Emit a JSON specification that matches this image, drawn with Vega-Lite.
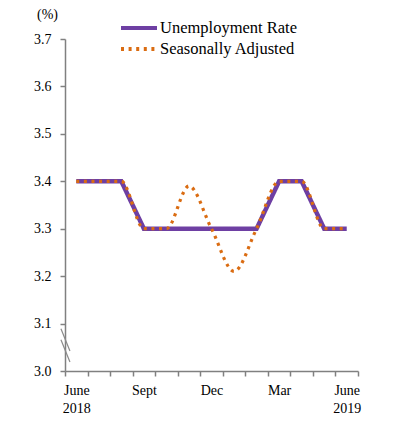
{
  "$schema": "https://vega.github.io/schema/vega-lite/v6.json",
  "width": 293,
  "height": 332,
  "autosize": "none",
  "padding": {"left": 65, "top": 39, "right": 39, "bottom": 74},
  "background": "white",
  "config": {"view": {"stroke": null}, "font": "Liberation Serif"},
  "datasets": {
    "rates": [
      {"i": 0, "series": "Unemployment Rate", "value": 3.4},
      {"i": 1, "series": "Unemployment Rate", "value": 3.4},
      {"i": 2, "series": "Unemployment Rate", "value": 3.4},
      {"i": 3, "series": "Unemployment Rate", "value": 3.3},
      {"i": 4, "series": "Unemployment Rate", "value": 3.3},
      {"i": 5, "series": "Unemployment Rate", "value": 3.3},
      {"i": 6, "series": "Unemployment Rate", "value": 3.3},
      {"i": 7, "series": "Unemployment Rate", "value": 3.3},
      {"i": 8, "series": "Unemployment Rate", "value": 3.3},
      {"i": 9, "series": "Unemployment Rate", "value": 3.4},
      {"i": 10, "series": "Unemployment Rate", "value": 3.4},
      {"i": 11, "series": "Unemployment Rate", "value": 3.3},
      {"i": 12, "series": "Unemployment Rate", "value": 3.3},
      {"i": 0, "series": "Seasonally Adjusted", "value": 3.4},
      {"i": 1, "series": "Seasonally Adjusted", "value": 3.4},
      {"i": 2, "series": "Seasonally Adjusted", "value": 3.4},
      {"i": 3, "series": "Seasonally Adjusted", "value": 3.3},
      {"i": 4, "series": "Seasonally Adjusted", "value": 3.3},
      {"i": 5, "series": "Seasonally Adjusted", "value": 3.39},
      {"i": 6, "series": "Seasonally Adjusted", "value": 3.3},
      {"i": 7, "series": "Seasonally Adjusted", "value": 3.21},
      {"i": 8, "series": "Seasonally Adjusted", "value": 3.3},
      {"i": 9, "series": "Seasonally Adjusted", "value": 3.4},
      {"i": 10, "series": "Seasonally Adjusted", "value": 3.4},
      {"i": 11, "series": "Seasonally Adjusted", "value": 3.3},
      {"i": 12, "series": "Seasonally Adjusted", "value": 3.3}
    ],
    "breaks": [
      {"x": -0.68, "y": 3.089, "x2": -0.28, "y2": 3.042},
      {"x": -0.68, "y": 3.066, "x2": -0.28, "y2": 3.019}
    ]
  },
  "resolve": {"axis": {"x": "independent"}},
  "layer": [
    {
      "data": {"name": "breaks"},
      "mark": {"type": "rule", "color": "#8a8a8a", "strokeWidth": 1.2, "clip": false},
      "encoding": {
        "x": {"field": "x", "type": "quantitative", "scale": {"domain": [-0.5, 12.5], "nice": false, "zero": false},
          "axis": {"orient": "bottom", "values": [-0.5, 0.5, 1.5, 2.5, 3.5, 4.5, 5.5, 6.5, 7.5, 8.5, 9.5, 10.5, 11.5, 12.5], "labels": false, "grid": false, "title": null, "domainColor": "#808080", "domainWidth": 1.5, "tickColor": "#808080", "tickWidth": 1.5, "tickSize": 5}},
        "x2": {"field": "x2"},
        "y": {"field": "y", "type": "quantitative", "scale": {"domain": [3.0, 3.7], "nice": false, "zero": false},
          "axis": {"values": [3.0, 3.1, 3.2, 3.3, 3.4, 3.5, 3.6, 3.7], "format": ".1f", "grid": false, "title": "(%)", "titleAngle": 0, "titleX": -18, "titleY": -18, "titleFont": "Liberation Serif", "titleFontSize": 14, "titleFontWeight": "normal", "titleColor": "black", "labelFont": "Liberation Serif", "labelFontSize": 14, "labelColor": "black", "labelPadding": 9, "domainColor": "#808080", "domainWidth": 1.5, "tickColor": "#808080", "tickWidth": 1.5, "tickSize": 5}},
        "y2": {"field": "y2"}
      }
    },
    {
      "data": {"name": "rates"},
      "transform": [{"filter": "datum.series === 'Unemployment Rate'"}],
      "mark": {"type": "line", "strokeWidth": 4.5, "interpolate": "linear"},
      "encoding": {
        "x": {"field": "i", "type": "quantitative",
          "axis": {"orient": "bottom", "values": [0, 3, 6, 9, 12], "ticks": false, "domain": false, "grid": false, "title": null, "labelFont": "Liberation Serif", "labelFontSize": 14, "labelColor": "black", "labelPadding": 12, "labelLineHeight": 18, "labelBaseline": "top", "labelExpr": "datum.value == 0 ? ['June', '2018'] : datum.value == 3 ? 'Sept' : datum.value == 6 ? 'Dec' : datum.value == 9 ? 'Mar' : ['June', '2019']"}},
        "y": {"field": "value", "type": "quantitative"},
        "color": {"field": "series", "type": "nominal", "title": null,
          "scale": {"domain": ["Unemployment Rate", "Seasonally Adjusted"], "range": ["#6E3FA3", "#DA6C12"]},
          "legend": {"orient": "none", "legendX": 62, "legendY": -23, "symbolType": "M-1.8,0H1.8", "symbolSize": 400, "symbolStrokeWidth": 4, "symbolFillColor": "transparent", "labelFont": "Liberation Serif", "labelFontSize": 16.5, "labelColor": "black", "labelOffset": 9, "rowPadding": 0}},
        "strokeDash": {"field": "series", "type": "nominal", "title": null,
          "scale": {"domain": ["Unemployment Rate", "Seasonally Adjusted"], "range": [[1, 0], [3, 4.6]]}}
      }
    },
    {
      "data": {"name": "rates"},
      "transform": [{"filter": "datum.series === 'Seasonally Adjusted'"}],
      "mark": {"type": "line", "strokeWidth": 3.2, "interpolate": "monotone"},
      "encoding": {
        "x": {"field": "i", "type": "quantitative", "axis": null},
        "y": {"field": "value", "type": "quantitative"},
        "color": {"field": "series", "type": "nominal"},
        "strokeDash": {"field": "series", "type": "nominal"}
      }
    }
  ]
}
